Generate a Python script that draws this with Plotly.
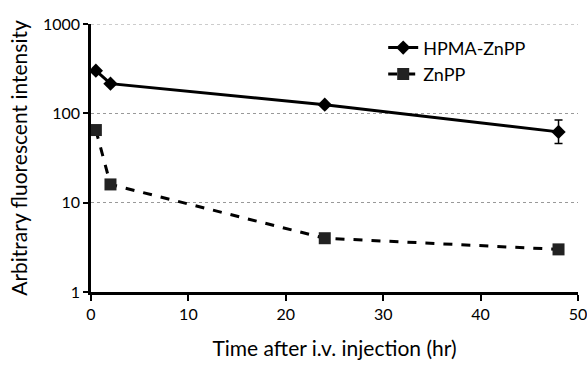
import plotly.graph_objects as go

time_hpma = [0.5, 2, 24, 48]
hpma_znpp = [300, 215, 125, 62]
hpma_err_plus = [0, 0, 0, 22]
hpma_err_minus = [0, 0, 0, 16]

time_znpp = [0.5, 2, 24, 48]
znpp = [65, 16, 4.0, 3.0]

x_ticks = [0, 10, 20, 30, 40, 50]
y_ticks = [1, 10, 100, 1000]

font = "Lato, 'Open Sans', sans-serif"

fig = go.Figure()
fig.add_trace(go.Scatter(
    x=time_hpma, y=hpma_znpp, name="HPMA-ZnPP", mode="lines+markers",
    line=dict(color="black", width=3),
    marker=dict(symbol="diamond", size=11, color="black"),
    error_y=dict(type="data", array=hpma_err_plus, arrayminus=hpma_err_minus,
                 color="black", thickness=1.5, width=4, symmetric=False),
))
fig.add_trace(go.Scatter(
    x=time_znpp, y=znpp, name="ZnPP", mode="lines+markers",
    line=dict(color="black", width=3, dash="dash"),
    marker=dict(symbol="square", size=12, color="#222"),
))

# top gridline (plotly omits gridlines on the plot edge)
fig.add_shape(type="line", xref="paper", yref="y", x0=0, x1=1,
              y0=y_ticks[-1], y1=y_ticks[-1],
              line=dict(color="#999", width=1, dash="dot"), layer="below")

fig.update_layout(
    width=587, height=365,
    margin=dict(l=91, r=9, t=24, b=73),
    paper_bgcolor="white", plot_bgcolor="white",
    font=dict(family=font, color="black", size=16),
    showlegend=True,
    legend=dict(x=0.60, y=0.98, xanchor="left", yanchor="top",
                bgcolor="rgba(0,0,0,0)", font=dict(size=18),
                tracegroupgap=0),
    xaxis=dict(
        range=[0, 50], tickvals=x_ticks, ticktext=[str(v) for v in x_ticks],
        showline=True, linecolor="black", linewidth=2.5,
        ticks="outside", ticklen=6, tickwidth=2, tickcolor="black",
        showgrid=False, zeroline=False, ticklabeloverflow="allow",
        automargin=False,
        title=dict(text="Time after i.v. injection (hr)", font=dict(size=21), standoff=20),
    ),
    yaxis=dict(
        type="log", range=[0, 3], tickvals=y_ticks, ticktext=[str(v) for v in y_ticks],
        showline=True, linecolor="black", linewidth=2.5,
        ticks="outside", ticklen=5, tickwidth=2, tickcolor="black",
        showgrid=True, gridcolor="#999", griddash="dot", gridwidth=1,
        zeroline=False, ticklabeloverflow="allow", automargin=False,
        title=dict(text="Arbitrary fluorescent intensity", font=dict(size=21), standoff=10),
    ),
)

fig.write_html("out.html")
